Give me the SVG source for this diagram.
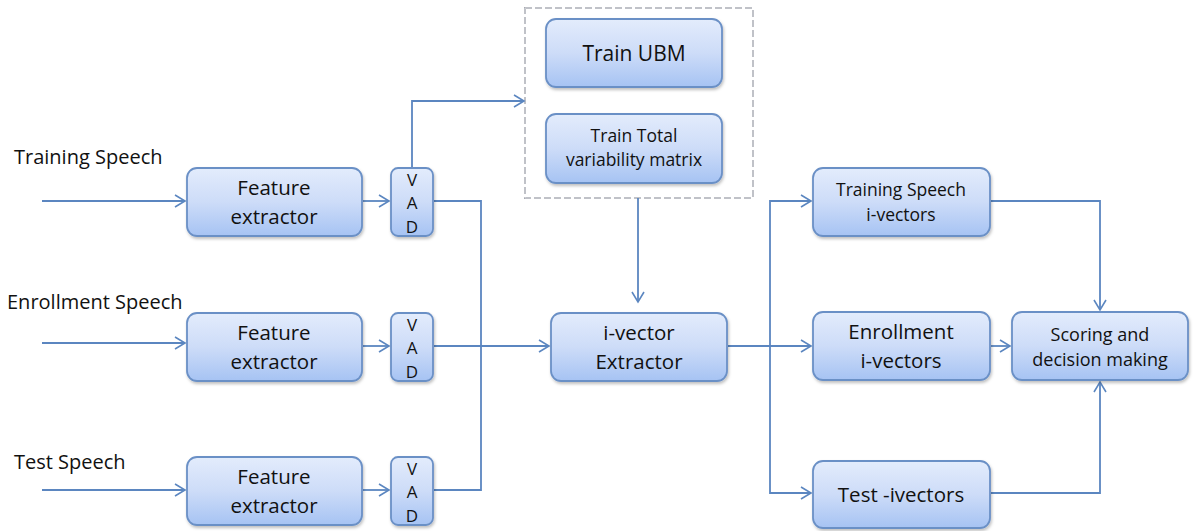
<svg xmlns="http://www.w3.org/2000/svg" width="1193" height="531" viewBox="0 0 1193 531">
<defs>
<linearGradient id="g" x1="0" y1="0" x2="0" y2="1">
<stop offset="0" stop-color="#e3ecfc"/>
<stop offset="0.5" stop-color="#cddcf8"/>
<stop offset="1" stop-color="#a6c3f3"/>
</linearGradient>
<filter id="sh" x="-10%" y="-10%" width="130%" height="140%">
<feDropShadow dx="1" dy="2" stdDeviation="1.5" flood-color="#000" flood-opacity="0.25"/>
</filter>
<marker id="ar" markerWidth="14" markerHeight="14" refX="11" refY="7" orient="auto" markerUnits="userSpaceOnUse">
<path d="M1,1 L11,7 L1,13" fill="none" stroke="#5b86c0" stroke-width="1.6"/>
</marker>
</defs>
<style>
.box{fill:url(#g);stroke:#6b90c6;stroke-width:1.8;filter:url(#sh)}
.t{font-family:"Open Sans","DejaVu Sans",sans-serif;fill:#111;text-anchor:middle}
.lbl{font-family:"Open Sans","DejaVu Sans",sans-serif;fill:#111;font-size:20px}
.c{fill:none;stroke:#5b86c0;stroke-width:1.8}
</style>
<rect width="1193" height="531" fill="#fff"/>
<g id="labels">
<text class="lbl" x="14" y="164">Training Speech</text>
<text class="lbl" x="7" y="309">Enrollment Speech</text>
<text class="lbl" x="14" y="469">Test Speech</text>
</g>
<g id="training-group">
<rect x="525" y="8" width="228" height="190" fill="none" stroke="#a8abb2" stroke-width="2" stroke-dasharray="7,3"/>
<rect x="525" y="8" width="228" height="190" fill="none" stroke="#e4e6ea" stroke-width="0.8" stroke-dasharray="7,3"/>
</g>
<g id="connectors">
<path class="c" d="M42,201 H185" marker-end="url(#ar)"/>
<path class="c" d="M42,343 H185" marker-end="url(#ar)"/>
<path class="c" d="M42,490 H185" marker-end="url(#ar)"/>
<path class="c" d="M363,201 H389" marker-end="url(#ar)"/>
<path class="c" d="M363,346 H389" marker-end="url(#ar)"/>
<path class="c" d="M363,490 H389" marker-end="url(#ar)"/>
<path class="c" d="M412,168 V101 H524" marker-end="url(#ar)"/>
<path class="c" d="M434,201 H481 V490 H434"/>
<path class="c" d="M434,346 H549" marker-end="url(#ar)"/>
<path class="c" d="M638,198 V302" marker-end="url(#ar)"/>
<path class="c" d="M728,346 H811" marker-end="url(#ar)"/>
<path class="c" d="M770,346 V201 H811" marker-end="url(#ar)"/>
<path class="c" d="M770,346 V493 H811" marker-end="url(#ar)"/>
<path class="c" d="M991,201 H1100 V310" marker-end="url(#ar)"/>
<path class="c" d="M991,346 H1010" marker-end="url(#ar)"/>
<path class="c" d="M991,493 H1100 V382" marker-end="url(#ar)"/>
</g>
<g id="fe1"><rect class="box" x="187" y="168" width="175" height="68" rx="10"/><text class="t" font-size="20.5" x="274" y="195">Feature</text><text class="t" font-size="20.5" x="274" y="224">extractor</text></g>
<g id="fe2"><rect class="box" x="187" y="313" width="175" height="68" rx="10"/><text class="t" font-size="20.5" x="274" y="340">Feature</text><text class="t" font-size="20.5" x="274" y="369">extractor</text></g>
<g id="fe3"><rect class="box" x="187" y="457" width="175" height="68" rx="10"/><text class="t" font-size="20.5" x="274" y="484">Feature</text><text class="t" font-size="20.5" x="274" y="513">extractor</text></g>
<g id="vad1"><rect class="box" x="391" y="168" width="42" height="68" rx="7"/><text class="t" font-size="17" x="412" y="186">V</text><text class="t" font-size="17" x="412" y="209">A</text><text class="t" font-size="17" x="412" y="233">D</text></g>
<g id="vad2"><rect class="box" x="391" y="313" width="42" height="68" rx="7"/><text class="t" font-size="17" x="412" y="331">V</text><text class="t" font-size="17" x="412" y="354">A</text><text class="t" font-size="17" x="412" y="378">D</text></g>
<g id="vad3"><rect class="box" x="391" y="457" width="42" height="68" rx="7"/><text class="t" font-size="17" x="412" y="475">V</text><text class="t" font-size="17" x="412" y="498">A</text><text class="t" font-size="17" x="412" y="522">D</text></g>
<g id="ubm"><rect class="box" x="546" y="19" width="176" height="68" rx="10"/><text class="t" font-size="21" x="634" y="61">Train UBM</text></g>
<g id="tvm"><rect class="box" x="546" y="114" width="176" height="69" rx="10"/><text class="t" font-size="17.5" x="634" y="142">Train Total</text><text class="t" font-size="17.5" x="634" y="166">variability matrix</text></g>
<g id="ivx"><rect class="box" x="551" y="313" width="176" height="68" rx="10"/><text class="t" font-size="20.5" x="639" y="340">i-vector</text><text class="t" font-size="20.5" x="639" y="369">Extractor</text></g>
<g id="trv"><rect class="box" x="813" y="168" width="177" height="68" rx="10"/><text class="t" font-size="17.5" x="901" y="196">Training Speech</text><text class="t" font-size="17.5" x="901" y="221">i-vectors</text></g>
<g id="env"><rect class="box" x="813" y="312" width="177" height="68" rx="10"/><text class="t" font-size="20.5" x="901" y="339">Enrollment</text><text class="t" font-size="20.5" x="901" y="368">i-vectors</text></g>
<g id="tev"><rect class="box" x="813" y="461" width="177" height="67" rx="10"/><text class="t" font-size="20.5" x="901" y="502">Test -ivectors</text></g>
<g id="score"><rect class="box" x="1012" y="312" width="176" height="68" rx="10"/><text class="t" font-size="18" x="1100" y="341">Scoring and</text><text class="t" font-size="18" x="1100" y="366">decision making</text></g>
</svg>
